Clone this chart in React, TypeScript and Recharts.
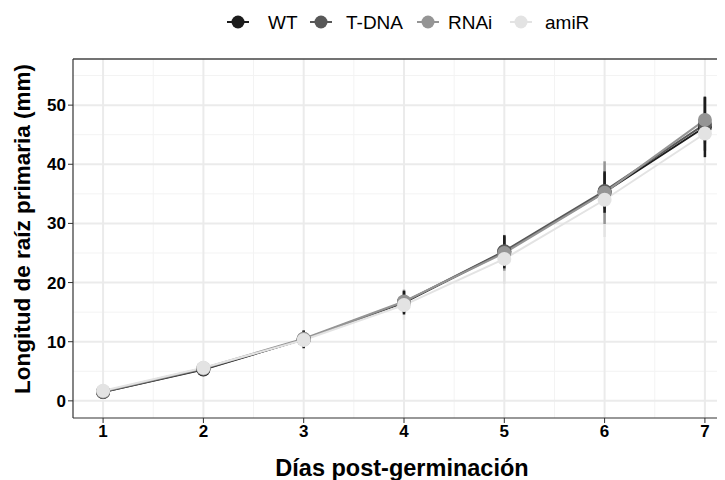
import React from 'react';
import { LineChart, Line, XAxis, YAxis, CartesianGrid, ErrorBar, ReferenceLine } from 'recharts';

const days = [1, 2, 3, 4, 5, 6, 7];

const wtMean = [1.5, 5.3, 10.4, 16.6, 25.2, 35.3, 46.3];
const wtSd = [0.3, 1.0, 1.5, 2.0, 2.8, 3.5, 5.1];
const tdnaMean = [1.5, 5.4, 10.4, 16.7, 25.3, 35.5, 46.8];
const tdnaSd = [0.3, 0.8, 1.3, 1.8, 2.5, 3.0, 4.5];
const rnaiMean = [1.6, 5.5, 10.5, 16.8, 25.0, 35.2, 47.5];
const rnaiSd = [0.3, 0.9, 1.4, 2.0, 3.0, 5.3, 4.0];
const amirMean = [1.7, 5.6, 10.3, 16.2, 24.0, 34.0, 45.2];
const amirSd = [0.3, 1.0, 1.5, 2.5, 4.2, 6.3, 4.0];

const xTicks = [1, 2, 3, 4, 5, 6, 7];
const xMinor = [1.5, 2.5, 3.5, 4.5, 5.5, 6.5];
const yTicks = [0, 10, 20, 30, 40, 50];
const yMinor = [5, 15, 25, 35, 45, 55];
const Y_MIN = -2.9;
const Y_MAX = 57.8;

const series = [
  { key: 'wt', name: 'WT', color: '#1c1c1c' },
  { key: 'tdna', name: 'T-DNA', color: '#585858' },
  { key: 'rnai', name: 'RNAi', color: '#959595' },
  { key: 'amir', name: 'amiR', color: '#e3e3e3' },
];

const data = days.map((d, i) => ({
  day: d,
  wt: wtMean[i], wtErr: wtSd[i],
  tdna: tdnaMean[i], tdnaErr: tdnaSd[i],
  rnai: rnaiMean[i], rnaiErr: rnaiSd[i],
  amir: amirMean[i], amirErr: amirSd[i],
}));

const FONT = '"Liberation Sans", Arial, sans-serif';
const tickStyle = { fill: '#000', fontSize: 17, fontWeight: 700, fontFamily: FONT };

const YTitle = () => (
  <text
    x={22}
    y={229}
    transform="rotate(-90 22 229)"
    textAnchor="middle"
    dominantBaseline="central"
    fontSize={22.5}
    fontWeight={700}
    fontFamily={FONT}
    fill="#000"
  >
    Longitud de raíz primaria (mm)
  </text>
);

const XTitle = () => (
  <text
    x={402}
    y={468}
    textAnchor="middle"
    dominantBaseline="central"
    fontSize={23.5}
    fontWeight={700}
    fontFamily={FONT}
    fill="#000"
  >
    Días post-germinación
  </text>
);

const legendPos = [
  { icon: 238, text: 268 },
  { icon: 321, text: 346 },
  { icon: 428, text: 448 },
  { icon: 521, text: 545 },
];

const LegendRow = () => (
  <svg width={725} height={45} style={{ position: 'absolute', left: 0, top: 0 }}>
    {series.map((s, i) => (
      <g key={s.key}>
        <line x1={legendPos[i].icon - 11} x2={legendPos[i].icon + 11} y1={22} y2={22} stroke={s.color} strokeWidth={2} />
        <circle cx={legendPos[i].icon} cy={22} r={6.5} fill={s.color} />
        <text x={legendPos[i].text} y={22} dominantBaseline="central" fontSize={19} fontFamily={FONT} fill="#000">
          {s.name}
        </text>
      </g>
    ))}
  </svg>
);

export default function App() {
  return (
    <div style={{ marginLeft: -8, marginTop: -8, width: 725, height: 480, overflow: 'hidden', position: 'relative', background: '#fff' }}>
      <LineChart width={735} height={480} data={data} margin={{ top: 59, right: 0, left: 0, bottom: 0 }}>
        <CartesianGrid horizontalValues={yMinor} verticalValues={xMinor} stroke="#f3f3f3" strokeWidth={1} />
        <CartesianGrid horizontalValues={yTicks} verticalValues={xTicks} stroke="#ebebeb" strokeWidth={2} />
        <XAxis
          dataKey="day"
          type="number"
          domain={[0.7, 7.3]}
          ticks={xTicks}
          allowDataOverflow
          height={62}
          tick={tickStyle}
          tickSize={5}
          tickLine={{ stroke: '#333' }}
          axisLine={{ stroke: '#333', strokeWidth: 1.2 }}
          label={<XTitle />}
        />
        <YAxis
          type="number"
          domain={[Y_MIN, Y_MAX]}
          ticks={yTicks}
          allowDataOverflow
          width={73}
          tick={tickStyle}
          tickSize={5}
          tickLine={{ stroke: '#333' }}
          axisLine={{ stroke: '#333', strokeWidth: 1.2 }}
          label={<YTitle />}
        />
        <ReferenceLine y={Y_MAX} stroke="#444" strokeWidth={1.5} />
        {series.map((s) => (
          <Line
            key={s.key}
            dataKey={s.key}
            stroke={s.color}
            strokeWidth={2}
            dot={{ r: 7, fill: s.color, stroke: 'none' }}
            activeDot={false}
            isAnimationActive={false}
          />
        ))}
        {[...series].reverse().map((s) => (
          <Line
            key={s.key + 'Err'}
            dataKey={s.key}
            stroke="none"
            dot={false}
            activeDot={false}
            legendType="none"
            isAnimationActive={false}
          >
            <ErrorBar dataKey={s.key + 'Err'} width={0} stroke={s.color} strokeWidth={2.5} direction="y" />
          </Line>
        ))}
      </LineChart>
      <LegendRow />
    </div>
  );
}
